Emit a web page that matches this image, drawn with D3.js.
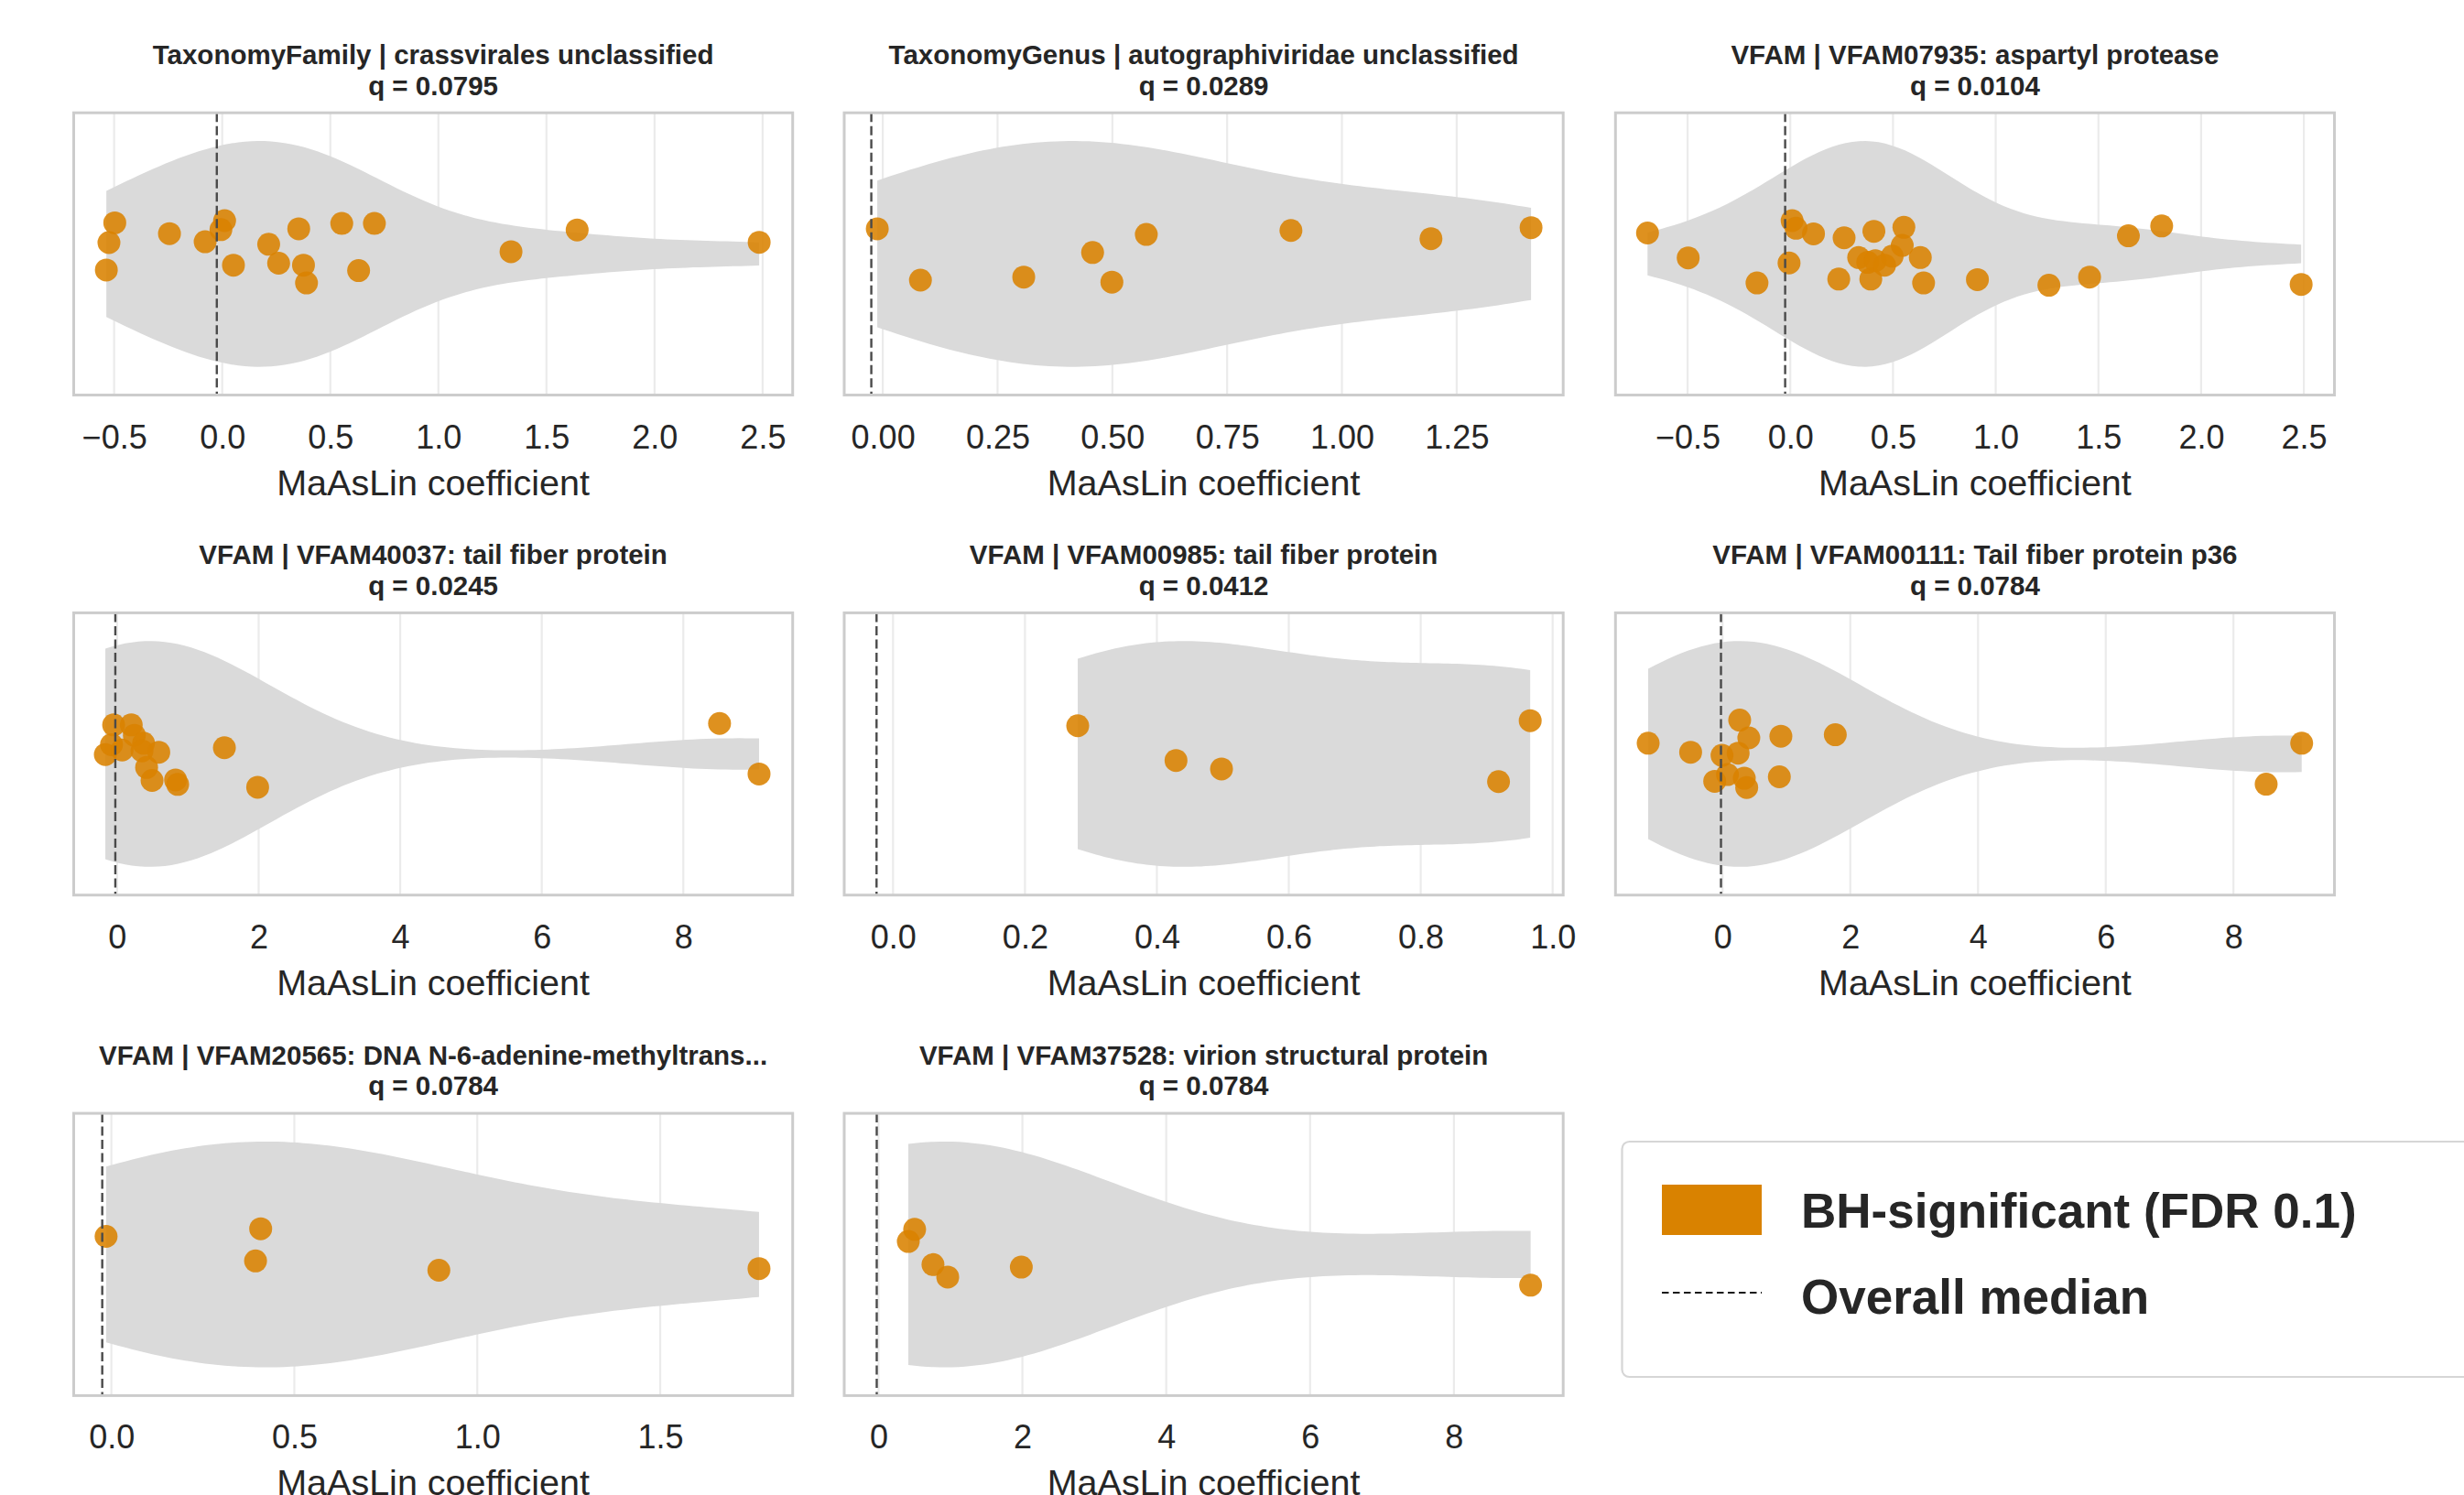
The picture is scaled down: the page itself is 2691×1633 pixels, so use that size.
<!DOCTYPE html>
<html>
<head>
<meta charset="utf-8">
<script src="https://cdn.jsdelivr.net/npm/d3@7"></script>
<style>
  body { margin: 0; background: #fff; }
  svg { display: block; font-family: "Liberation Sans", Arial, sans-serif; }
</style>
</head>
<body>
<svg id="chart" width="2691" height="1633"></svg>
<script>
// panel titles and q-values
const panelTitles = [
    "TaxonomyFamily | crassvirales unclassified",
    "TaxonomyGenus | autographiviridae unclassified",
    "VFAM | VFAM07935: aspartyl protease",
    "VFAM | VFAM40037: tail fiber protein",
    "VFAM | VFAM00985: tail fiber protein",
    "VFAM | VFAM00111: Tail fiber protein p36",
    "VFAM | VFAM20565: DNA N-6-adenine-methyltrans...",
    "VFAM | VFAM37528: virion structural protein"
];
const qValues = ["0.0795", "0.0289", "0.0104", "0.0245", "0.0412", "0.0784", "0.0784", "0.0784"];

// MaAsLin coefficients per panel
const coefP1 = [-0.497, -0.524, -0.536, -0.244, -0.079, 0.011, -0.006, 0.052, 0.215, 0.261, 0.354, 0.376, 0.390, 0.553, 0.704, 0.631, 1.336, 1.642, 2.484];
const coefP2 = [-0.012, 0.082, 0.307, 0.457, 0.499, 0.574, 0.889, 1.194, 1.412];
const coefP3 = [-0.695, -0.497, -0.162, -0.006, 0.009, 0.028, 0.113, 0.262, 0.236, 0.407, 0.553, 0.545, 0.392, 0.633, 0.649, 0.333, 0.377, 0.414, 0.459, 0.496, 0.911, 1.259, 1.457, 1.646, 1.808, 2.487];
const coefP4 = [-0.049, 0.200, -0.079, -0.166, 0.071, 0.244, 0.374, 0.352, 0.589, 0.417, 0.494, 0.826, 0.856, 1.516, 1.986, 8.512, 9.070];
const coefP5 = [0.280, 0.429, 0.498, 0.918, 0.966];
const coefP6 = [-1.165, -0.500, 0.268, 0.411, 0.913, 0.244, -0.009, 0.077, -0.123, 0.340, 0.378, 0.889, 1.765, 8.512, 9.068];
const coefP7 = [-0.0145, 0.408, 0.394, 0.895, 1.770];
const coefP8 = [0.414, 0.502, 0.757, 0.962, 1.985, 9.066];

// strip jitter (category units, + is down)
const jitP1 = [-0.110, -0.040, 0.057, -0.072, -0.043, -0.118, -0.086, 0.040, -0.034, 0.033, -0.089, 0.040, 0.103, -0.108, -0.108, 0.059, -0.008, -0.085, -0.041];
const jitP2 = [-0.089, 0.093, 0.082, -0.005, 0.100, -0.069, -0.083, -0.054, -0.093];
const jitP3 = [-0.074, 0.014, 0.103, 0.032, -0.118, -0.091, -0.071, -0.057, 0.089, -0.080, -0.094, -0.030, 0.089, 0.013, 0.103, 0.013, 0.030, 0.024, 0.040, 0.008, 0.091, 0.111, 0.082, -0.064, -0.099, 0.108];
const jitP4 = [-0.103, -0.103, -0.033, 0.002, -0.014, -0.066, -0.038, -0.011, -0.006, 0.048, 0.094, 0.092, 0.108, -0.022, 0.118, -0.108, 0.071];
const jitP5 = [-0.100, 0.023, 0.053, 0.098, -0.118];
const jitP6 = [-0.038, -0.006, -0.120, -0.057, -0.063, -0.003, 0.005, 0.073, 0.097, 0.086, 0.119, 0.081, -0.068, 0.107, -0.038];
const jitP7 = [-0.064, -0.091, 0.023, 0.056, 0.050];
const jitP8 = [-0.046, -0.089, 0.036, 0.080, 0.045, 0.109];

const overallMedian = -0.025;

// axis limits and ticks
const xDomains = [[-0.687, 2.639], [-0.084, 1.482], [-0.851, 2.649], [-0.613, 9.545],
                  [-0.074, 1.016], [-1.677, 9.581], [-0.103, 1.862], [-0.477, 9.519]];
const tickValues = [
    [-0.5, 0, 0.5, 1, 1.5, 2, 2.5],
    [0, 0.25, 0.5, 0.75, 1, 1.25],
    [-0.5, 0, 0.5, 1, 1.5, 2, 2.5],
    [0, 2, 4, 6, 8],
    [0, 0.2, 0.4, 0.6, 0.8, 1.0],
    [0, 2, 4, 6, 8],
    [0, 0.5, 1, 1.5],
    [0, 2, 4, 6, 8]
];
const tickFormats = [".1f", ".2f", ".1f", "d", ".1f", "d", ".1f", "d"];
const xLabel = "MaAsLin coefficient";
const legendLabels = ["BH-significant (FDR 0.1)", "Overall median"];

const coefs = [coefP1, coefP2, coefP3, coefP4, coefP5, coefP6, coefP7, coefP8];
const jitters = [jitP1, jitP2, jitP3, jitP4, jitP5, jitP6, jitP7, jitP8];

// layout
const colLeft = [80.5, 922, 1764.3];
const rowTop = [123.2, 669.4, 1216.1];
const boxW = 785.2, boxH = 308.3;
const textColor = "#262626";
const orange = "#d98200";

const svg = d3.select("#chart");

// gaussian kde, scott bandwidth, cut at data range
function violinProfile(values) {
    const n = values.length;
    const sd = d3.deviation(values);
    const bw = sd * Math.pow(n, -1 / 5);
    const [lo, hi] = d3.extent(values);
    const grid = d3.range(100).map(i => lo + (hi - lo) * i / 99);
    const dens = grid.map(x => d3.sum(values, v => Math.exp(-0.5 * ((x - v) / bw) ** 2)));
    const maxD = d3.max(dens);
    return grid.map((x, i) => ({ x, w: 0.4 * dens[i] / maxD }));
}

coefs.forEach((vals, p) => {
    const left = colLeft[p % 3];
    const top = rowTop[Math.floor(p / 3)];
    const x = d3.scaleLinear().domain(xDomains[p]).range([left, left + boxW]);
    const y = d3.scaleLinear().domain([-0.5, 0.5]).range([top, top + boxH]);
    const g = svg.append("g");

    // grid lines
    g.selectAll("line.grid")
        .data(tickValues[p])
        .join("line")
        .attr("x1", d => x(d)).attr("x2", d => x(d))
        .attr("y1", top).attr("y2", top + boxH)
        .attr("stroke", "#ebebeb")
        .attr("stroke-width", 2.2);

    // violin
    const prof = violinProfile(vals);
    const area = d3.area()
        .x(d => x(d.x))
        .y0(d => y(-d.w))
        .y1(d => y(d.w));
    g.append("path")
        .attr("d", area(prof))
        .attr("fill", "#dadada");

    // points
    g.selectAll("circle")
        .data(vals.map((v, i) => ({ v, j: jitters[p][i] })))
        .join("circle")
        .attr("cx", d => x(d.v))
        .attr("cy", d => y(d.j))
        .attr("r", 12.5)
        .attr("fill", orange)
        .attr("fill-opacity", 0.88);

    // overall median
    g.append("line")
        .attr("x1", x(overallMedian)).attr("x2", x(overallMedian))
        .attr("y1", top).attr("y2", top + boxH)
        .attr("stroke", "#4a4a4a")
        .attr("stroke-width", 2.4)
        .attr("stroke-dasharray", "10,4.5");

    // frame
    g.append("rect")
        .attr("x", left).attr("y", top)
        .attr("width", boxW).attr("height", boxH)
        .attr("fill", "none")
        .attr("stroke", "#cccccc")
        .attr("stroke-width", 3);

    // x axis
    const axis = d3.axisBottom(x)
        .tickValues(tickValues[p])
        .tickFormat(d3.format(tickFormats[p]))
        .tickSize(0)
        .tickPadding(0);
    const ax = g.append("g")
        .attr("transform", `translate(0,${top + boxH})`)
        .call(axis);
    ax.select(".domain").remove();
    ax.selectAll("text")
        .attr("dy", null)
        .attr("y", 58)
        .attr("fill", textColor)
        .attr("font-size", 36)
        .attr("font-family", "Liberation Sans, Arial, sans-serif");

    g.append("text")
        .attr("x", left + boxW / 2)
        .attr("y", top + boxH + 109)
        .attr("text-anchor", "middle")
        .attr("fill", textColor)
        .attr("font-size", 39.5)
        .text(xLabel);

    // title
    const title = g.append("text")
        .attr("text-anchor", "middle")
        .attr("fill", textColor)
        .attr("font-size", 29.5)
        .attr("font-weight", "bold");
    title.append("tspan")
        .attr("x", left + boxW / 2).attr("y", top - 53.6)
        .text(panelTitles[p]);
    title.append("tspan")
        .attr("x", left + boxW / 2).attr("y", top - 19.7)
        .text(`q = ${qValues[p]}`);
});

// legend
const lg = svg.append("g");
lg.append("rect")
    .attr("x", 1771.5).attr("y", 1247)
    .attr("width", 1000).attr("height", 257)
    .attr("rx", 8)
    .attr("fill", "#fff")
    .attr("stroke", "#d6d6d6")
    .attr("stroke-width", 2.2);
lg.append("rect")
    .attr("x", 1815).attr("y", 1294)
    .attr("width", 109).attr("height", 55)
    .attr("fill", orange);
lg.append("line")
    .attr("x1", 1815).attr("x2", 1924)
    .attr("y1", 1412).attr("y2", 1412)
    .attr("stroke", "#1a1a1a")
    .attr("stroke-width", 2)
    .attr("stroke-dasharray", "7.5,4.5");
lg.selectAll("text.leg")
    .data(legendLabels)
    .join("text")
    .attr("x", 1967)
    .attr("y", (d, i) => i === 0 ? 1341 : 1435)
    .attr("fill", textColor)
    .attr("font-size", 53)
    .attr("font-weight", "bold")
    .text(d => d);
</script>
</body>
</html>
